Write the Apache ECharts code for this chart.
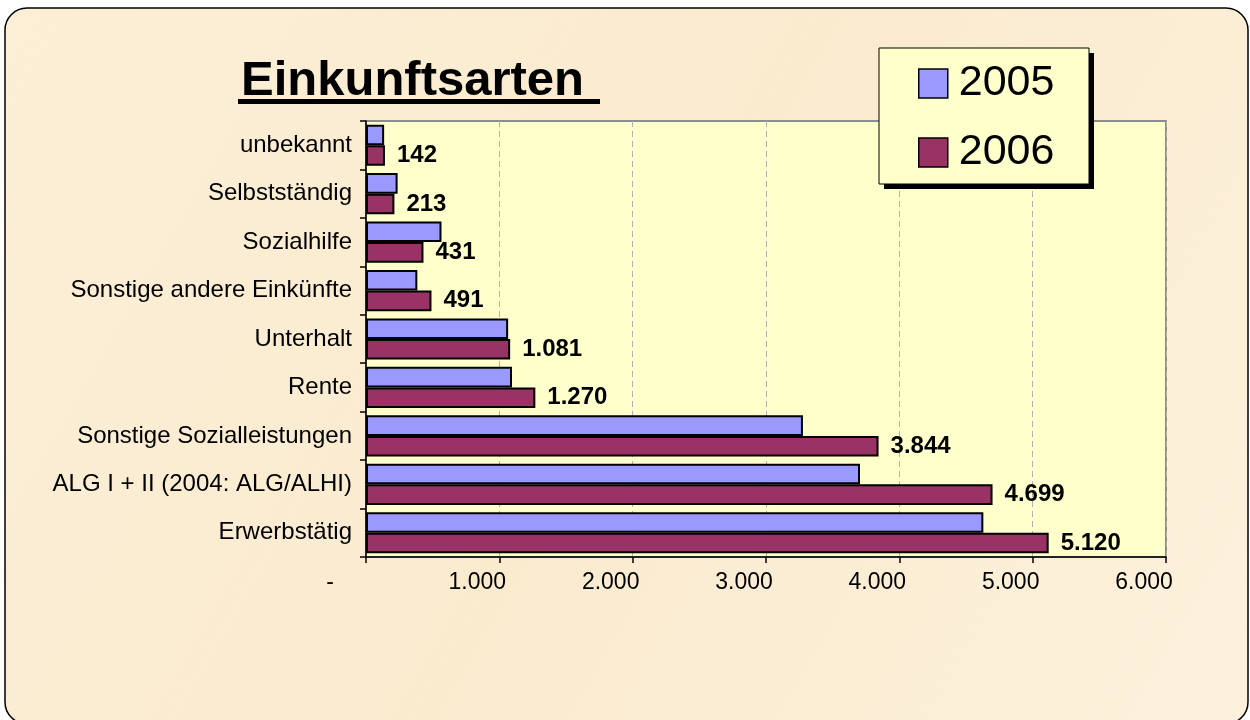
<!DOCTYPE html>
<html>
<head>
<meta charset="utf-8">
<script src="https://cdn.jsdelivr.net/npm/echarts@6/dist/echarts.min.js"></script>
<style>
html,body{margin:0;padding:0;background:#ffffff;}
#chart{width:1250px;height:720px;}
</style>
</head>
<body>
<div id="chart"></div>
<script>
const categories = ['unbekannt', 'Selbstständig', 'Sozialhilfe', 'Sonstige andere Einkünfte', 'Unterhalt', 'Rente', 'Sonstige Sozialleistungen', 'ALG I + II (2004: ALG/ALHI)', 'Erwerbstätig'];
const values2005 = [136, 237, 566, 385, 1066, 1095, 3277, 3705, 4630];
const values2006 = [142, 213, 431, 491, 1081, 1270, 3844, 4699, 5120];
const seriesNames = ['2005', '2006'];
const xMin = 0, xMax = 6000, xStep = 1000;

const FONT = "'Liberation Sans', Arial, sans-serif";
function fmt(v) {
  return String(Math.round(v)).replace(/\B(?=(\d{3})+(?!\d))/g, '.');
}

const chart = echarts.init(document.getElementById('chart'));
chart.setOption({
  animation: false,
  backgroundColor: 'transparent',
  graphic: [
    {
      type: 'rect', z: -10, silent: true,
      shape: { x: 5, y: 8, width: 1243, height: 716, r: 22 },
      style: {
        fill: {
          type: 'linear', x: 0, y: 0, x2: 1, y2: 1,
          colorStops: [
            { offset: 0, color: '#FCEFD6' },
            { offset: 0.5, color: '#FAEBCF' },
            { offset: 1, color: '#FDF1DC' }
          ]
        },
        stroke: '#000', lineWidth: 1.5
      }
    },
    {
      type: 'rect', z: 5, silent: true,
      shape: { x: 238, y: 99, width: 362, height: 5 },
      style: { fill: '#000' }
    },
    {
      type: 'rect', z: 20, silent: true,
      shape: { x: 884, y: 53, width: 210, height: 136 },
      style: { fill: '#000' }
    },
    {
      type: 'rect', z: 21, silent: true,
      shape: { x: 879, y: 48, width: 210, height: 136 },
      style: { fill: '#FFFFCC', stroke: '#000', lineWidth: 1 }
    }
  ],
  title: {
    text: 'Einkunftsarten',
    left: 236, top: 52,
    textStyle: { fontFamily: FONT, fontWeight: 'bold', fontSize: 49, color: '#000' }
  },
  legend: {
    orient: 'vertical',
    left: 918, top: 62,
    z: 30,
    data: seriesNames,
    padding: 0,
    itemWidth: 29, itemHeight: 29, itemGap: 26,
    icon: 'rect',
    textStyle: { fontFamily: FONT, fontSize: 43, color: '#000', padding: [0, 0, 0, 6] },
    itemStyle: { borderColor: '#000', borderWidth: 1.5 }
  },
  grid: {
    left: 366, top: 121, right: 84, bottom: 163,
    show: true, backgroundColor: '#FFFFCC', borderColor: '#8C8C8C', borderWidth: 2
  },
  xAxis: {
    type: 'value', min: xMin, max: xMax, interval: xStep,
    axisLine: { show: true, lineStyle: { color: '#000', width: 1.5 } },
    axisTick: { show: true, length: 6, lineStyle: { color: '#000', width: 1.5 } },
    splitLine: { show: true, lineStyle: { color: '#B0B0B0', type: [6, 4], width: 1 } },
    axisLabel: {
      margin: 14,
      fontFamily: FONT, fontSize: 23, color: '#000',
      formatter: function (v) { return v === 0 ? '{z|-}' : '{n|' + fmt(v) + '}'; },
      rich: {
        z: { fontFamily: FONT, fontSize: 23, color: '#000', padding: [0, 72, 0, 0] },
        n: { fontFamily: FONT, fontSize: 23, color: '#000', padding: [0, 44, 0, 0] }
      }
    }
  },
  yAxis: {
    type: 'category', data: categories, inverse: true,
    axisLine: { show: true, lineStyle: { color: '#000', width: 1.5 } },
    axisTick: { show: true, length: 6, lineStyle: { color: '#000', width: 1.5 } },
    axisLabel: { margin: 14, fontFamily: FONT, fontSize: 24, color: '#000' }
  },
  series: [
    {
      name: seriesNames[0], type: 'bar', data: values2005,
      barGap: '0%', barCategoryGap: '15%',
      itemStyle: { color: '#9999FF', borderColor: '#000', borderWidth: 2 }
    },
    {
      name: seriesNames[1], type: 'bar', data: values2006,
      barGap: '0%', barCategoryGap: '15%',
      itemStyle: { color: '#993366', borderColor: '#000', borderWidth: 2 },
      label: {
        show: true, position: 'right', distance: 12,
        fontFamily: FONT, fontWeight: 'bold', fontSize: 24, color: '#000',
        formatter: function (p) { return fmt(p.value); }
      }
    }
  ]
});
</script>
</body>
</html>
